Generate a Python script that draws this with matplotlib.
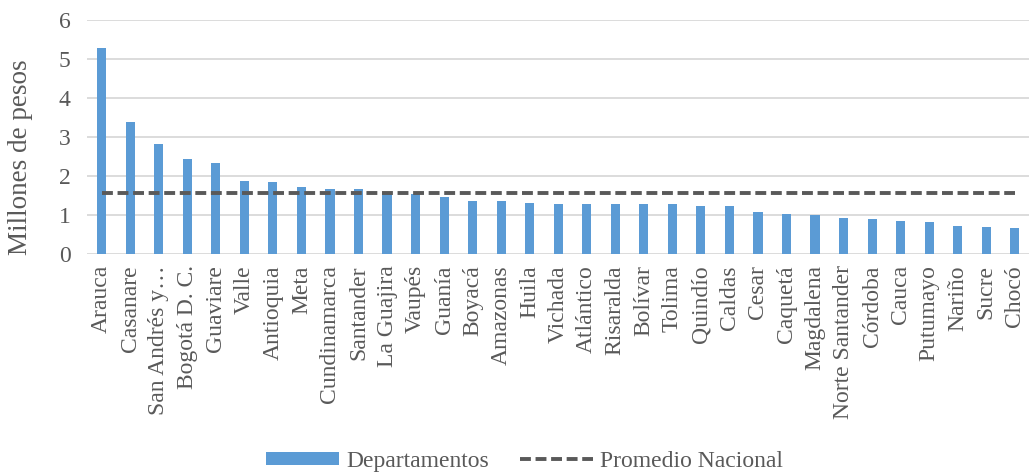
import matplotlib.pyplot as plt
import numpy as np

# Datos
departamentos = ['Arauca', 'Casanare', 'San Andrés y…', 'Bogotá D. C.', 'Guaviare', 'Valle',
                 'Antioquia', 'Meta', 'Cundinamarca', 'Santander', 'La Guajira', 'Vaupés',
                 'Guanía', 'Boyacá', 'Amazonas', 'Huila', 'Vichada', 'Atlántico', 'Risaralda',
                 'Bolívar', 'Tolima', 'Quindío', 'Caldas', 'Cesar', 'Caquetá', 'Magdalena',
                 'Norte Santander', 'Córdoba', 'Cauca', 'Putumayo', 'Nariño', 'Sucre', 'Chocó']
valores = [5.28, 3.38, 2.82, 2.44, 2.33, 1.88, 1.85, 1.72, 1.67, 1.67, 1.59, 1.55,
           1.47, 1.37, 1.37, 1.31, 1.29, 1.29, 1.29, 1.28, 1.28, 1.22, 1.22, 1.07,
           1.03, 1.00, 0.92, 0.89, 0.84, 0.82, 0.71, 0.70, 0.67]
promedio_nacional = 1.57

plt.rcParams['font.family'] = ['Liberation Serif', 'DejaVu Serif']
gris = '#595959'

fig = plt.figure(figsize=(10.29, 4.74), dpi=100)
ax = fig.add_axes([0.085, 0.464, 0.915, 0.494])

x = np.arange(len(departamentos))
barras = ax.bar(x, valores, width=0.32, color='#5b9bd5', label='Departamentos', zorder=3)
linea, = ax.plot(x, [promedio_nacional] * len(x), '--', color='#595959', lw=2.8,
                 dashes=(2.8, 1.2), label='Promedio Nacional', zorder=4)

ax.set_xlim(-0.5, len(x) - 0.5)
ax.set_ylim(0, 6)
ax.set_yticks(range(0, 7))
ax.set_xticks(x)
ax.set_xticklabels(departamentos, rotation=90, fontsize=17, color=gris)
ax.tick_params(axis='y', labelsize=17, labelcolor=gris, length=0, pad=12)
ax.tick_params(axis='x', length=0, pad=8)
ax.grid(axis='y', color='#d9d9d9', lw=1.3, zorder=0)
for s in ax.spines.values():
    s.set_visible(False)
ax.set_ylabel('Millones de pesos', fontsize=19.5, color=gris)
ax.yaxis.set_label_coords(-0.058, 0.415)

fig.legend([barras, linea], ['Departamentos', 'Promedio Nacional'],
           loc='lower center', bbox_to_anchor=(0.51, -0.04), ncol=2, frameon=False,
           fontsize=17, labelcolor=gris, handlelength=3.1, handleheight=0.5,
           columnspacing=1.3, handletextpad=0.3)

fig.savefig('out.png', dpi=100)
